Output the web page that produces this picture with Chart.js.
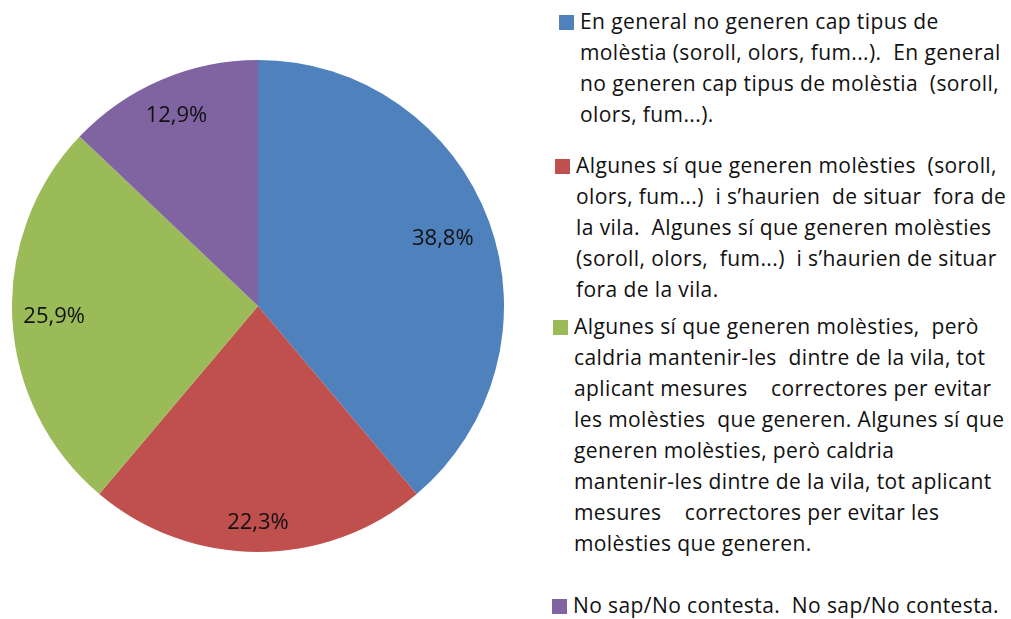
<!DOCTYPE html>
<html>
<head>
<meta charset="utf-8">
<script src="https://cdn.jsdelivr.net/npm/chart.js@4"></script>
<style>
  html, body { margin: 0; padding: 0; background: #fff; }
  #wrap { position: relative; width: 1011px; height: 619px; overflow: hidden; font-family: "Open Sans", Lato, sans-serif; }
  #pieBox { position: absolute; left: 12px; top: 60px; width: 492px; height: 492px; }
  .item { position: absolute; }
  .sq { position: absolute; left: 0; top: 9px; width: 15px; height: 15px; }
  .txt { position: absolute; left: 21px; white-space: pre; font-size: 21px; line-height: 31px; color: #111; letter-spacing: 0.4px; }
</style>
</head>
<body>
<div id="wrap">
  <div id="pieBox"><canvas id="c"></canvas></div>
  <div id="legend"></div>
</div>
<script>
const categories = [
  "En general no generen cap tipus de molèstia (soroll, olors, fum...).  En general no generen cap tipus de molèstia (soroll, olors, fum...).",
  "Algunes sí que generen molèsties (soroll, olors, fum...)  i s’haurien de situar fora de la vila.  Algunes sí que generen molèsties (soroll, olors, fum...)  i s’haurien de situar fora de la vila.",
  "Algunes sí que generen molèsties, però caldria mantenir-les dintre de la vila, tot aplicant mesures   correctores per evitar les molèsties que generen. Algunes sí que generen molèsties, però caldria mantenir-les dintre de la vila, tot aplicant mesures   correctores per evitar les molèsties que generen.",
  "No sap/No contesta. No sap/No contesta."
];
const legendLines = [
  ["En general no generen cap tipus de", "molèstia (soroll, olors, fum...).  En general", "no generen cap tipus de molèstia  (soroll,", "olors, fum...)."],
  ["Algunes sí que generen molèsties  (soroll,", "olors, fum...)  i s’haurien  de situar  fora de", "la vila.  Algunes sí que generen molèsties", "(soroll, olors,  fum...)  i s’haurien de situar", "fora de la vila."],
  ["Algunes sí que generen molèsties,  però", "caldria mantenir-les  dintre de la vila, tot", "aplicant mesures    correctores per evitar", "les molèsties  que generen. Algunes sí que", "generen molèsties, però caldria", "mantenir-les dintre de la vila, tot aplicant", "mesures    correctores per evitar les", "molèsties que generen."],
  ["No sap/No contesta.  No sap/No contesta."]
];
const values = [38.8, 22.3, 25.9, 12.9];
const valueLabels = ["38,8%", "22,3%", "25,9%", "12,9%"];
const colors = ["#4F81BD", "#C0504D", "#9BBB59", "#8064A2"];

// legend layout: per-item [left, top]
const legendPos = [[559, 6], [555, 150], [553, 311], [552, 590]];
const legend = document.getElementById('legend');
legendLines.forEach((lines, i) => {
  const it = document.createElement('div');
  it.className = 'item';
  it.style.left = legendPos[i][0] + 'px';
  it.style.top = legendPos[i][1] + 'px';
  const sq = document.createElement('div');
  sq.className = 'sq';
  sq.style.background = colors[i];
  const tx = document.createElement('div');
  tx.className = 'txt';
  tx.textContent = lines.join('\n');
  it.appendChild(sq); it.appendChild(tx);
  legend.appendChild(it);
});

const labelPlugin = {
  id: 'sliceLabels',
  afterDatasetsDraw(chart, args, opts) {
    const ctx = chart.ctx;
    const meta = chart.getDatasetMeta(0);
    ctx.save();
    ctx.font = opts.font;
    ctx.fillStyle = opts.color;
    ctx.textAlign = 'center';
    ctx.textBaseline = 'middle';
    meta.data.forEach((arc, i) => {
      const p = arc.getProps(['x', 'y', 'startAngle', 'endAngle', 'outerRadius'], true);
      const mid = (p.startAngle + p.endAngle) / 2;
      const r = p.outerRadius * opts.radius[i];
      ctx.fillText(valueLabels[i], p.x + Math.cos(mid) * r, p.y + Math.sin(mid) * r);
    });
    ctx.restore();
  }
};

new Chart(document.getElementById('c'), {
  type: 'pie',
  data: {
    labels: categories,
    datasets: [{ data: values, backgroundColor: colors, borderWidth: 0 }]
  },
  options: {
    responsive: true,
    maintainAspectRatio: false,
    animation: false,
    layout: { padding: 0 },
    plugins: {
      legend: { display: false },
      tooltip: { enabled: false },
      sliceLabels: { font: '22px "Open Sans"', color: '#111', radius: [0.8, 0.88, 0.83, 0.84] }
    }
  },
  plugins: [labelPlugin]
});
</script>
</body>
</html>
